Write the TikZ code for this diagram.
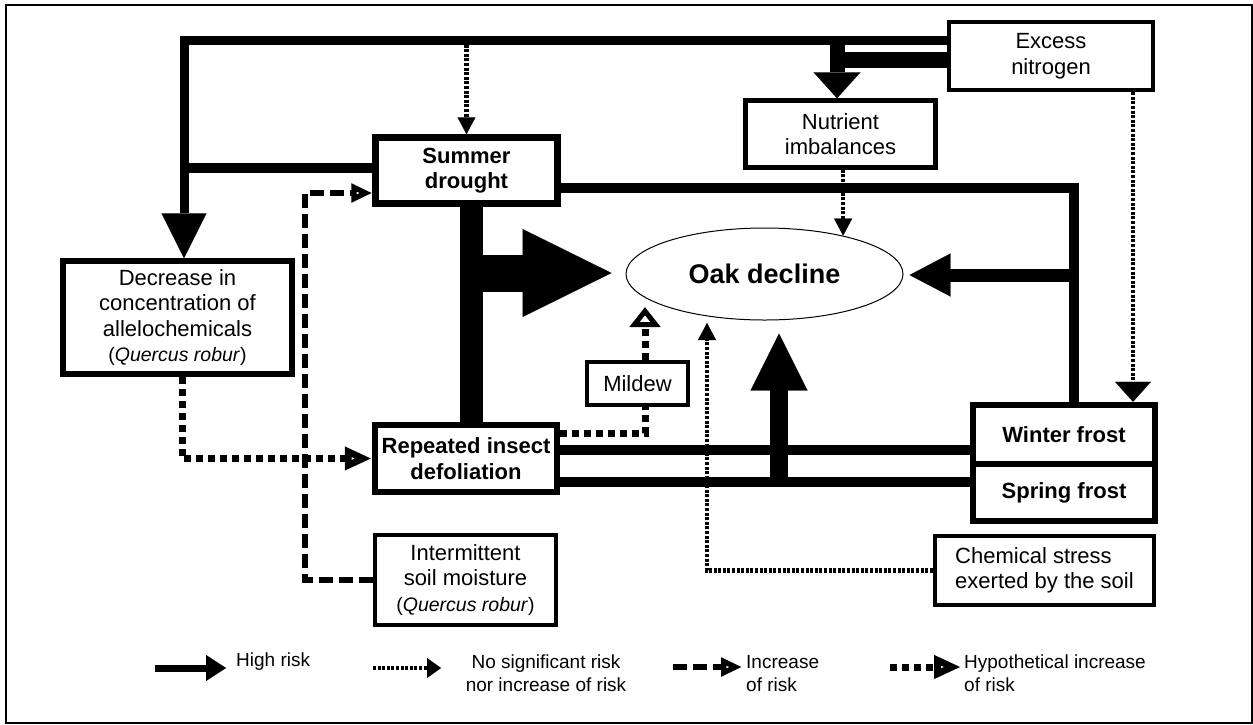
\documentclass[tikz,border=0pt]{standalone}
\usepackage{fontspec}
\setmainfont{Liberation Sans}
\usetikzlibrary{arrows.meta,shapes.geometric}
\newcommand\fsz[2]{\fontsize{#1}{#2}\selectfont}

\tikzset{
  box/.style={draw, line width=4.5pt, align=center, inner sep=0pt, font=\fsz{22}{25.5}},
  keybox/.style={box, line width=6.5pt, font=\fsz{22}{25.5}\bfseries},
  oval/.style={ellipse, draw, line width=1pt, minimum width=277pt, minimum height=92pt,
    inner sep=0pt, font=\fsz{27}{30}\bfseries},
  high/.style={line width=10pt},
  bigtip/.style 2 args={-{Triangle[length=#1,width=#2,line width=0.1pt]}},
  nsr/.style={line width=4.5pt, dash pattern=on 3pt off 1.6pt},
  nsrtip/.style={-{Triangle[length=17pt,width=18pt,line width=0.1pt]}},
  inc/.style={line width=6pt, dash pattern=on 14pt off 6pt},
  inctip/.style={-{Triangle[open,length=21pt,width=18pt,line width=8pt]}},
  hyp/.style={line width=7pt, dash pattern=on 7pt off 5pt},
  hyptip/.style={-{Triangle[open,length=27pt,width=22pt,line width=9pt]}},
  legend/.style={font=\fsz{19}{23}, align=left, inner sep=0pt},
}

\begin{document}
\begin{tikzpicture}[x=1pt,y=-1pt]
\useasboundingbox (0,0) rectangle (1253,724);
\draw[line width=1.5pt] (6,5) rectangle (1252,723);

% boxes
\node[box, minimum width=204pt, minimum height=68pt] (excess) at (1051,56) {Excess\\nitrogen};
\node[box, minimum width=190pt, minimum height=67pt] (nutrient) at (840.5,134) {Nutrient\\imbalances};
\node[keybox, minimum width=182pt, minimum height=66pt] (summer) at (466.5,170.5) {Summer\\drought};
\node[box, line width=5.5pt, minimum width=229pt, minimum height=113pt] (decrease) at (177.5,317.5)
  {Decrease in\\concentration of\\allelochemicals\\{\fsz{19.5}{23}(\textit{Quercus robur})}};
\node[oval] (oak) at (764.5,274) {Oak decline};
\node[box, minimum width=101pt, minimum height=43pt] (mildew) at (637.5,383.5) {Mildew};
\node[keybox, minimum width=182pt, minimum height=67pt] (repeated) at (466,458.5) {Repeated insect\\defoliation};
\node[keybox, minimum width=182pt, minimum height=59pt] (winter) at (1064,434.5) {Winter frost};
\node[keybox, minimum width=182pt, minimum height=57pt] (spring) at (1064,492.5) {Spring frost};
\node[box, align=left, minimum width=219pt, minimum height=69pt] (chemical) at (1044.5,570.5)
  {Chemical stress\\exerted by the soil};
\node[box, minimum width=181pt, minimum height=90pt] (intermittent) at (465.5,580)
  {Intermittent\\soil moisture\\{\fsz{19.5}{23}(\textit{Quercus robur})}};

% junction points of the connectors
\coordinate (tl) at (184,40);
\coordinate (sb) at (0,168);
\coordinate (nj) at (837,60);
\coordinate (ed) at (1133,0);
\coordinate (sj) at (1074,188);
\coordinate (oj) at (1074,275);
\coordinate (bj) at (471,273);
\coordinate (ua) at (779,482);
\coordinate (r1) at (0,450);
\coordinate (r2) at (0,482);
\coordinate (dc) at (305,193);
\coordinate (cd) at (707,323);
\coordinate (m1) at (560,433);
\coordinate (mx) at (645,0);
\coordinate (mt) at (645,307);
\coordinate (dx) at (182,0);

% high risk
\draw[high, line width=9pt, bigtip={45pt}{45pt}] (excess.west |- tl) -- (tl) -- (tl |- decrease.north);
\draw[high] (summer.west |- sb) -- (tl |- sb);
\draw[high, line width=16pt] (excess.west |- nj) -- (nj);
\draw[high, line width=15pt, bigtip={26pt}{47pt}] (nj |- tl) -- (nj |- nutrient.north);
\draw[high] (sj -| summer.east) -- (sj) -- (sj |- winter.north);
\draw[high, line width=13pt, bigtip={41pt}{43pt}, shorten >=6pt] (oj) -- (oj -| oak.east);
\draw[high, line width=23pt] (bj |- summer.south) -- (bj |- repeated.north);
\draw[high, line width=37pt, bigtip={89pt}{88pt}, shorten >=14pt] (bj) -- (bj -| oak.west);
\draw[high] (r1 -| repeated.east) -- (r1 -| winter.west);
\draw[high] (r2 -| repeated.east) -- (r2 -| spring.west);
\draw[high, line width=18pt, bigtip={57pt}{57pt}, shorten >=13pt] (ua) -- (ua |- oak.south);

% no significant risk
\draw[nsr, nsrtip, shorten <=4.5pt] (summer.north |- tl) -- (summer.north);
\draw[nsr, nsrtip] (oak.26 |- nutrient.south) -- (oak.26);
\draw[nsr, bigtip={20pt}{36pt}] (excess.south -| ed) -- (winter.north -| ed);
\draw[nsr, nsrtip] (chemical.west) -| (cd);

% increase of risk
\draw[inc, inctip] (intermittent.west) -| (dc) -- (dc -| summer.west);

% hypothetical increase of risk
\draw[hyp, hyptip] (decrease.south -| dx) |- (repeated.west);
\draw[hyp] (m1) -| (mildew.south -| mx);
\draw[hyp, -{Triangle[open,length=20pt,width=30pt,line width=8pt]}] (mildew.north -| mx) -- (mt);

% legend
\coordinate (la1) at (155,668);
\coordinate (la2) at (226,668);
\coordinate (lb1) at (373,668);
\coordinate (lb2) at (441,668);
\coordinate (lc1) at (673,667);
\coordinate (lc2) at (742,667);
\coordinate (ld1) at (890,667);
\coordinate (ld2) at (961,667);
\draw[line width=7pt, bigtip={20pt}{26pt}] (la1) -- (la2);
\node[legend, anchor=west] (lhigh) at (236,662) {High risk};
\draw[nsr, bigtip={14pt}{20pt}] (lb1) -- (lb2);
\node[legend, align=center] (lnsr) at (546,673.5) {No significant risk\\nor increase of risk};
\draw[inc, inctip] (lc1) -- (lc2);
\node[legend, anchor=west] (linc) at (746,673.5) {Increase\\of risk};
\draw[hyp, hyptip] (ld1) -- (ld2);
\node[legend, anchor=west] (lhyp) at (964,673.5) {Hypothetical increase\\of risk};
\end{tikzpicture}
\end{document}
